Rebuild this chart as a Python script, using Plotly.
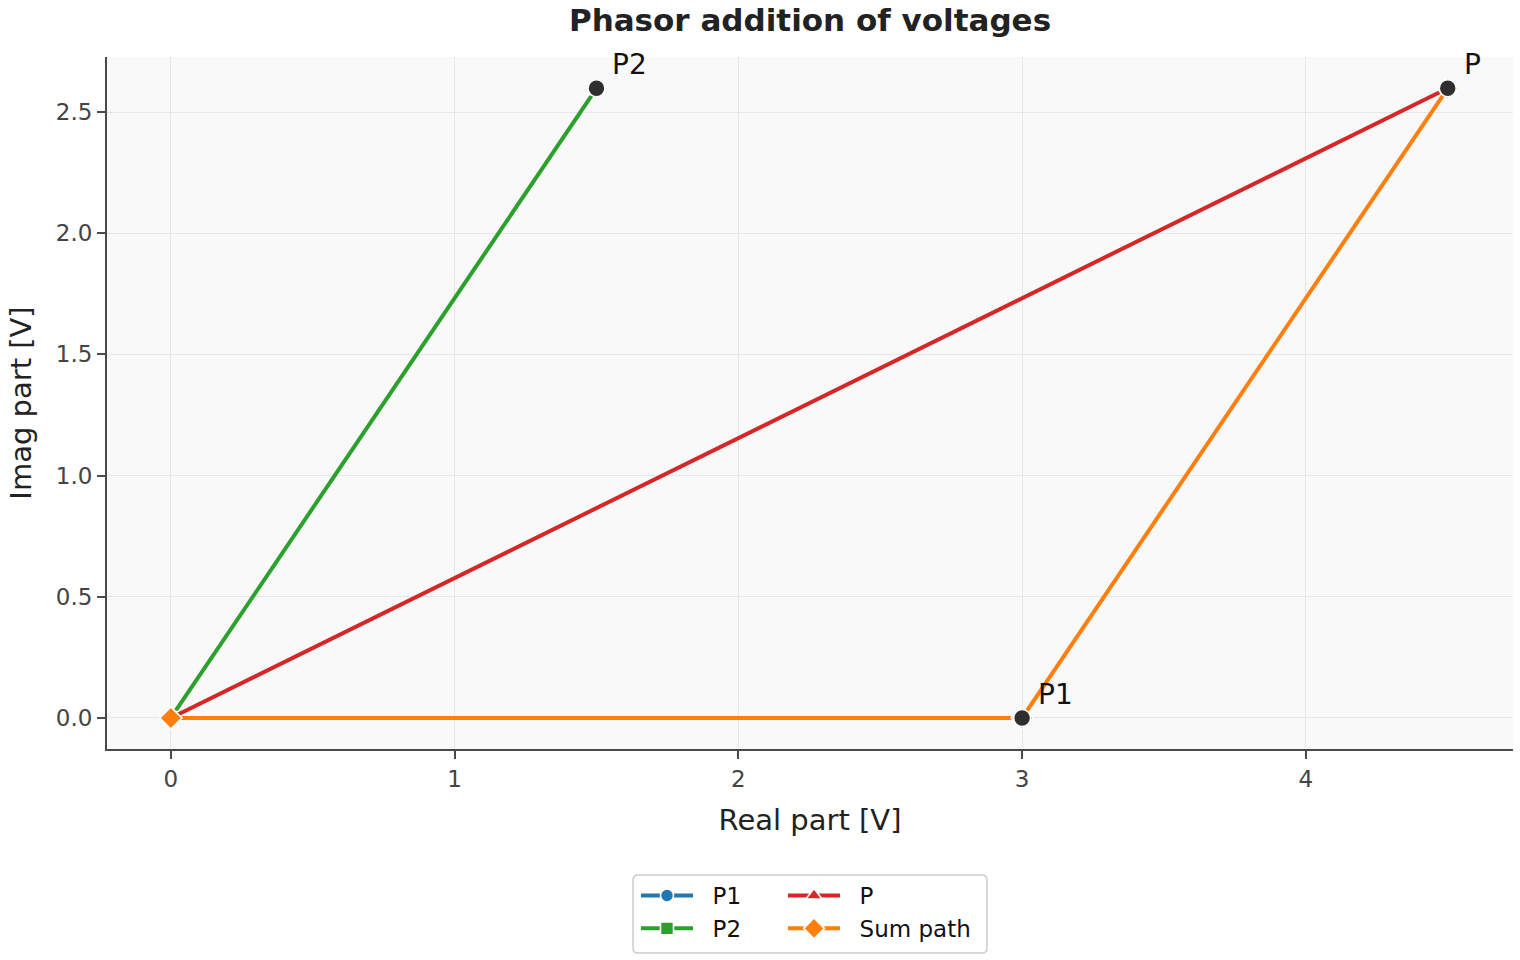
import plotly.graph_objects as go

# Data
p1_x = [0, 3.0]
p1_y = [0, 0.0]
p2_x = [0, 1.5]
p2_y = [0, 2.598]
p_x = [0, 4.5]
p_y = [0, 2.598]
sum_x = [0, 3.0, 4.5]
sum_y = [0, 0.0, 2.598]
end_labels = ["P1", "P2", "P"]
end_x = [3.0, 1.5, 4.5]
end_y = [0.0, 2.598, 2.598]

FONT = "DejaVu Sans"
fig = go.Figure()

def add(name, xs, ys, color, symbol, legend, msize=13):
    fig.add_trace(go.Scatter(
        x=xs, y=ys, mode="lines+markers", name="&nbsp;&nbsp;" + name,
        line=dict(color=color, width=4),
        marker=dict(symbol=symbol, size=msize, color=color,
                    line=dict(color="white", width=1.6)),
        legend=legend,
    ))

add("P1", p1_x, p1_y, "#1f77b4", "circle", "legend")
add("P2", p2_x, p2_y, "#2ca02c", "square", "legend", msize=13)
add("P", p_x, p_y, "#d62728", "triangle-up", "legend2", msize=14)
add("Sum path", sum_x, sum_y, "#ff7f0e", "diamond", "legend2", msize=17)

fig.add_trace(go.Scatter(
    x=end_x, y=end_y, mode="markers", showlegend=False,
    marker=dict(symbol="circle", size=17, color="#2f2f2f",
                line=dict(color="white", width=1.6)),
))

for lab, xx, yy in zip(end_labels, end_x, end_y):
    fig.add_annotation(x=xx, y=yy, text=lab, showarrow=False,
                       xanchor="left", yanchor="bottom", xshift=14, yshift=5,
                       font=dict(family=FONT, size=28, color="#111"))

axis_common = dict(
    showgrid=True, gridcolor="#e6e6e6", gridwidth=1,
    zeroline=False, showline=True, linecolor="#4a4a4a", linewidth=2,
    ticks="outside", ticklen=8, tickwidth=2, tickcolor="#4a4a4a",
    tickfont=dict(family=FONT, size=23, color="#444"),
    mirror=False,
)

# rounded legend frame (paper coordinates)
PW, PH = 1406.0, 692.0
lx0, lx1 = (633 - 107) / PW, (987 - 107) / PW
ly1, ly0 = (749 - 875) / PH, (749 - 953) / PH
rx, ry = 5 / PW, 5 / PH
frame = (f"M {lx0+rx},{ly1} L {lx1-rx},{ly1} Q {lx1},{ly1} {lx1},{ly1-ry} "
         f"L {lx1},{ly0+ry} Q {lx1},{ly0} {lx1-rx},{ly0} L {lx0+rx},{ly0} "
         f"Q {lx0},{ly0} {lx0},{ly0+ry} L {lx0},{ly1-ry} Q {lx0},{ly1} {lx0+rx},{ly1} Z")

legend_common = dict(orientation="v", yanchor="top", xanchor="left",
                     bgcolor="rgba(0,0,0,0)", borderwidth=0,
                     font=dict(family=FONT, size=23, color="#111"),
                     itemwidth=52, tracegroupgap=0)

fig.update_layout(
    width=1520, height=960,
    margin=dict(l=107, r=7, t=57, b=211),
    paper_bgcolor="white", plot_bgcolor="#f9f9f9",
    title=dict(text="<b>Phasor addition of voltages</b>", x=0.5, xref="paper",
               y=0.979, yanchor="middle",
               font=dict(family=FONT, size=31, color="#222")),
    xaxis=dict(range=[-0.225, 4.73], dtick=1, tickformat="d",
               title=dict(text="Real part [V]", font=dict(family=FONT, size=29, color="#222"), standoff=19),
               **axis_common),
    yaxis=dict(range=[-0.128, 2.727], dtick=0.5, tickformat=".1f",
               title=dict(text="Imag part [V]", font=dict(family=FONT, size=29, color="#222"), standoff=16),
               **axis_common),
    legend=dict(x=(636 - 107) / PW, y=(749 - 874) / PH, **legend_common),
    legend2=dict(x=(783 - 107) / PW, y=(749 - 874) / PH, **legend_common),
    shapes=[dict(type="path", path=frame, xref="paper", yref="paper",
                 line=dict(color="#cccccc", width=1.5), fillcolor="white", layer="below")],
    showlegend=True,
)

fig.write_html("out.html")
